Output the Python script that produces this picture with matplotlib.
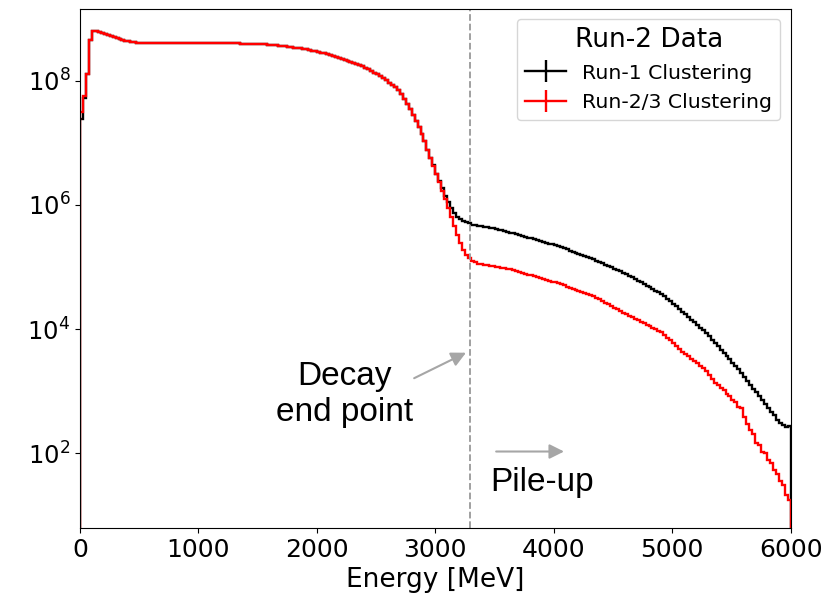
import numpy as np
import matplotlib.pyplot as plt
from matplotlib.lines import Line2D

# 25 MeV bins from 0 to 6000 MeV
edges = np.arange(0, 6001, 25)

# log10(counts) per bin; both clusterings agree from 50 to 2950 MeV
common_log = [
    8.10, 8.65, 8.79, 8.79, 8.785, 8.77, 8.755, 8.735, 8.715, 8.695,       # 50 - 275
    8.68, 8.665, 8.65, 8.64, 8.632, 8.625, 8.617, 8.61, 8.605, 8.603,      # 300 - 525
    8.601, 8.600, 8.598, 8.597, 8.598, 8.599, 8.600, 8.600, 8.601, 8.602,  # 550 - 775
    8.602, 8.603, 8.603, 8.604, 8.604, 8.603, 8.603, 8.603, 8.604, 8.604,  # 800 - 1025
    8.603, 8.603, 8.602, 8.602, 8.602, 8.601, 8.601, 8.600, 8.600, 8.599,  # 1050 - 1275
    8.598, 8.597, 8.596, 8.595, 8.594, 8.592, 8.591, 8.589, 8.587, 8.584,  # 1300 - 1525
    8.581, 8.578, 8.574, 8.570, 8.566, 8.561, 8.556, 8.550, 8.545, 8.538,  # 1550 - 1775
    8.531, 8.524, 8.517, 8.509, 8.500, 8.491, 8.482, 8.472, 8.462, 8.450,  # 1800 - 2025
    8.438, 8.425, 8.412, 8.398, 8.384, 8.369, 8.354, 8.338, 8.322, 8.305,  # 2050 - 2275
    8.287, 8.268, 8.250, 8.228, 8.205, 8.180, 8.155, 8.128, 8.100, 8.070,  # 2300 - 2525
    8.038, 8.003, 7.965, 7.93, 7.89, 7.84, 7.78, 7.71, 7.63, 7.54,         # 2550 - 2775
    7.44, 7.35, 7.25, 7.14, 7.02, 6.89,                                    # 2800 - 2925
]

run1_head = [7.38, 7.72]
run1_tail = [
    6.76, 6.64, 6.50, 6.38, 6.27, 6.15, 6.04, 5.95, 5.87, 5.81,            # 2950 - 3175
    5.77, 5.74, 5.72, 5.70, 5.675, 5.668, 5.661, 5.654, 5.647, 5.640,      # 3200 - 3425
    5.633, 5.625, 5.614, 5.602, 5.590, 5.579, 5.567, 5.553, 5.540, 5.526,  # 3450 - 3675
    5.513, 5.499, 5.486, 5.472, 5.459, 5.445, 5.431, 5.418, 5.404, 5.390,  # 3700 - 3925
    5.377, 5.363, 5.349, 5.336, 5.318, 5.301, 5.283, 5.265, 5.248, 5.230,  # 3950 - 4175
    5.212, 5.194, 5.177, 5.159, 5.141, 5.121, 5.100, 5.078, 5.057, 5.036,  # 4200 - 4425
    5.014, 4.993, 4.971, 4.950, 4.928, 4.907, 4.885, 4.860, 4.833, 4.806,  # 4450 - 4675
    4.780, 4.753, 4.726, 4.700, 4.673, 4.646, 4.620, 4.593, 4.565, 4.525,  # 4700 - 4925
    4.485, 4.445, 4.405, 4.365, 4.325, 4.283, 4.240, 4.197, 4.154, 4.111,  # 4950 - 5175
    4.068, 4.025, 3.985, 3.933, 3.881, 3.829, 3.777, 3.725, 3.668, 3.616,  # 5200 - 5425
    3.564, 3.512, 3.460, 3.408, 3.356, 3.300, 3.236, 3.172, 3.108, 3.044,  # 5450 - 5675
    2.980, 2.916, 2.852, 2.788, 2.725, 2.662, 2.61, 2.53, 2.49, 2.45,      # 5700 - 5925
    2.42, 2.44,                                                            # 5950 - 5975
]

run23_head = [7.49, 7.75]
run23_tail = [
    6.76, 6.63, 6.49, 6.36, 6.23, 6.09, 5.95, 5.81, 5.66, 5.51,            # 2950 - 3175
    5.38, 5.28, 5.20, 5.14, 5.10, 5.075, 5.055, 5.042, 5.032, 5.024,       # 3200 - 3425
    5.016, 5.009, 5.002, 4.995, 4.988, 4.980, 4.972, 4.963, 4.949, 4.935,  # 3450 - 3675
    4.921, 4.907, 4.893, 4.878, 4.864, 4.850, 4.836, 4.822, 4.807, 4.793,  # 3700 - 3925
    4.779, 4.765, 4.751, 4.736, 4.718, 4.702, 4.685, 4.668, 4.651, 4.635,  # 3950 - 4175
    4.618, 4.601, 4.584, 4.567, 4.550, 4.532, 4.506, 4.479, 4.452, 4.425,  # 4200 - 4425
    4.399, 4.372, 4.345, 4.319, 4.292, 4.265, 4.238, 4.214, 4.190, 4.166,  # 4450 - 4675
    4.142, 4.118, 4.094, 4.070, 4.046, 4.022, 3.998, 3.975, 3.951, 3.910,  # 4700 - 4925
    3.864, 3.818, 3.772, 3.726, 3.680, 3.634, 3.598, 3.561, 3.524, 3.487,  # 4950 - 5175
    3.450, 3.413, 3.370, 3.320, 3.262, 3.204, 3.140, 3.10, 3.05, 3.02,     # 5200 - 5425
    2.95, 2.92, 2.86, 2.83, 2.75, 2.73, 2.58, 2.47, 2.38, 2.31,            # 5450 - 5675
    2.17, 2.13, 2.03, 2.00, 1.89, 1.84, 1.73, 1.67, 1.56, 1.49,            # 5700 - 5925
    1.33, 1.25,                                                            # 5950 - 5975
]

run1_counts = 10 ** np.array(run1_head + common_log + run1_tail)
run23_counts = 10 ** np.array(run23_head + common_log + run23_tail)

endpoint = 3290  # MeV

fig = plt.figure(figsize=(8.38, 5.97), dpi=100)
ax = fig.add_axes([0.0955, 0.1156, 0.848, 0.8694])

ax.stairs(run1_counts, edges, color="black", lw=1.7, baseline=1)
ax.stairs(run23_counts, edges, color="red", lw=1.7, baseline=1)

ax.axvline(endpoint, color="#999999", ls="--", lw=1.3)

ax.set_yscale("log")
ax.set_xlim(0, 6000)
ax.set_ylim(6.3, 1.42e9)
ax.set_yticks([1e2, 1e4, 1e6, 1e8])
ax.minorticks_off()
ax.tick_params(axis="y", labelsize=17.5)
ax.tick_params(axis="x", labelsize=18)
ax.set_xlabel("Energy [MeV]", fontsize=19, labelpad=4)

# annotations
arrow = dict(arrowstyle="-|>", color="#a6a6a6", lw=1.5, mutation_scale=22)
ax.annotate("", xy=(3280, 10**3.64), xytext=(2800, 10**3.19), arrowprops=arrow)
ax.annotate("", xy=(4110, 10**2.03), xytext=(3490, 10**2.03), arrowprops=arrow)
ax.text(2230, 10**2.95, "Decay\nend point", family="Liberation Sans", fontsize=24,
        ha="center", va="center", multialignment="center")
ax.text(3900, 10**1.53, "Pile-up", family="Liberation Sans", fontsize=24,
        ha="center", va="center")

handles = [
    Line2D([], [], color="black", lw=1.7, marker="|", markersize=16, markeredgewidth=1.7),
    Line2D([], [], color="red", lw=1.7, marker="|", markersize=16, markeredgewidth=1.7),
]
leg = ax.legend(handles, ["Run-1 Clustering", "Run-2/3 Clustering"], loc="upper right",
                title="Run-2 Data", fontsize=14.7, title_fontsize=19)

fig.savefig("out.png", dpi=100)
